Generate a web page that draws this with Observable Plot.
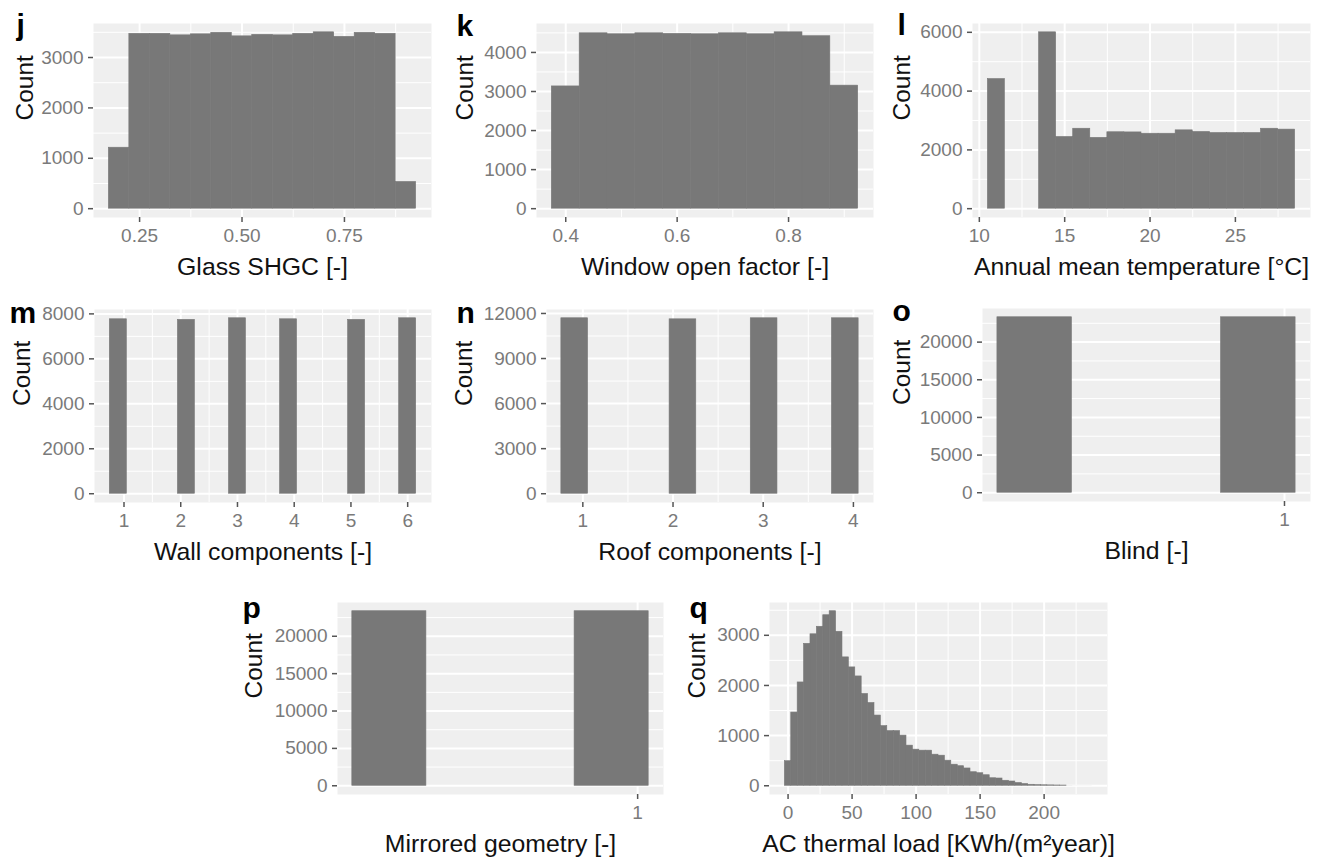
<!DOCTYPE html>
<html><head><meta charset="utf-8">
<script src="https://cdn.jsdelivr.net/npm/d3@7"></script>
<script src="https://cdn.jsdelivr.net/npm/@observablehq/plot@0.6"></script>
<style>
body{margin:0;background:#fff;}
#root{position:relative;width:1320px;height:858px;overflow:hidden;background:#fff;font-family:"Liberation Sans",Arial,sans-serif;}
#root svg{position:absolute;overflow:visible;}
</style></head><body><div id="root"></div>
<script>
// ---------- data ----------
// j: Glass SHGC
const shgcCenters = [0.20,0.25,0.30,0.35,0.40,0.45,0.50,0.55,0.60,0.65,0.70,0.75,0.80,0.85,0.90];
const shgcCounts  = [1210,3470,3470,3440,3460,3490,3420,3450,3440,3470,3500,3410,3490,3470,530];
const shgcTicks = [0.25,0.50,0.75];
// k: Window open factor
const windowCenters = [0.40,0.45,0.50,0.55,0.60,0.65,0.70,0.75,0.80,0.85,0.90];
const windowCounts  = [3130,4490,4465,4490,4475,4465,4490,4465,4515,4415,3150];
const windowTicks = [0.4,0.6,0.8];
// l: Annual mean temperature
const tempCenters = [11,14,15,16,17,18,19,20,21,22,23,24,25,26,27,28];
const tempCounts  = [4410,6000,2440,2720,2410,2600,2595,2550,2550,2665,2610,2575,2575,2575,2720,2690];
const tempTicks = [10,15,20,25];
// m: Wall components
const wallCenters = [0.90,2.10,3.00,3.90,5.10,6.00];
const wallCounts  = [7760,7735,7805,7760,7735,7805];
const wallTicks = [1,2,3,4,5,6];
// n: Roof components
const roofCenters = [0.91,2.11,3.01,3.91];
const roofCounts  = [11680,11610,11680,11680];
const roofTicks = [1,2,3,4];
// o: Blind
const blindCenters = [-0.117,0.883];
const blindCounts  = [23300,23300];
const blindTicks = [1];
// p: Mirrored geometry
const mirrorCenters = [-0.117,0.883];
const mirrorCounts  = [23350,23350];
const mirrorTicks = [1];
// q: AC thermal load
const loadCenters = [0,5,10,15,20,25,30,35,40,45,50,55,60,65,70,75,80,85,90,95,100,105,110,115,120,125,130,135,140,145,150,155,160,165,170,175,180,185,190,195,200,205,210,215,220,225,230,235];
const loadCounts  = [490,1460,2060,2830,3020,3170,3400,3480,3070,2560,2360,2180,1830,1650,1400,1190,1090,1090,1000,800,720,700,700,620,600,500,420,390,345,270,250,210,150,145,100,85,55,35,20,13,10,8,6,5,2,1,1,1];
const loadTicks = [0,50,100,150,200];

// ---------- panels ----------
const panels = [
  {letter:"j", title:"Glass SHGC [-]", centers:shgcCenters, counts:shgcCounts, bw:0.05, xTicks:shgcTicks, xMinor:[0.375,0.625,0.875], yTicks:[0,1000,2000,3000], yMinor:[500,1500,2500,3500], xFmt:".2f",
   box:[0,0,440,290], frame:[93,23,431,217], countX:25, letterXY:[16,34]},
  {letter:"k", title:"Window open factor [-]", centers:windowCenters, counts:windowCounts, bw:0.05, xTicks:windowTicks, xMinor:[0.5,0.7,0.9], yTicks:[0,1000,2000,3000,4000], yMinor:[500,1500,2500,3500,4500], xFmt:".1f",
   box:[440,0,440,290], frame:[536,23,873,217], countX:465, letterXY:[456,35]},
  {letter:"l", title:"Annual mean temperature [°C]", centers:tempCenters, counts:tempCounts, bw:1, xTicks:tempTicks, xMinor:[12.5,17.5,22.5,27.5], yTicks:[0,2000,4000,6000], yMinor:[1000,3000,5000], xFmt:"d",
   box:[880,0,440,290], frame:[972,23,1310,217], countX:902, letterXY:[897,34]},
  {letter:"m", title:"Wall components [-]", centers:wallCenters, counts:wallCounts, bw:0.3, xTicks:wallTicks, xMinor:[1.5,2.5,3.5,4.5,5.5], yTicks:[0,2000,4000,6000,8000], yMinor:[1000,3000,5000,7000], xFmt:"d",
   box:[0,290,440,280], frame:[94,309,431,502], countX:22, letterXY:[9,322]},
  {letter:"n", title:"Roof components [-]", centers:roofCenters, counts:roofCounts, bw:0.296, xTicks:roofTicks, xMinor:[1.5,2.5,3.5], yTicks:[0,3000,6000,9000,12000], yMinor:[1500,4500,7500,10500], xFmt:"d",
   box:[440,290,440,280], frame:[546,309,873,502], countX:464, letterXY:[456,322]},
  {letter:"o", title:"Blind [-]", centers:blindCenters, counts:blindCounts, bw:1/3, xTicks:blindTicks, xMinor:[], yTicks:[0,5000,10000,15000,20000], yMinor:[2500,7500,12500,17500,22500], xFmt:"d",
   box:[880,290,440,280], frame:[982,308,1310,501], countX:902, letterXY:[892,320]},
  {letter:"p", title:"Mirrored geometry [-]", centers:mirrorCenters, counts:mirrorCounts, bw:1/3, xTicks:mirrorTicks, xMinor:[], yTicks:[0,5000,10000,15000,20000], yMinor:[2500,7500,12500,17500,22500], xFmt:"d",
   box:[230,570,450,288], frame:[337,602,663,794], countX:254, letterXY:[242,617]},
  {letter:"q", title:"AC thermal load [KWh/(m²year)]", centers:loadCenters, counts:loadCounts, bw:5, xTicks:loadTicks, xMinor:[25,75,125,175,225], yTicks:[0,1000,2000,3000], yMinor:[500,1500,2500,3500], xFmt:"d",
   box:[680,570,450,288], frame:[769,602,1107,794], countX:697, letterXY:[689,617]}
];

const FONT = "'Liberation Sans', Arial, sans-serif";
const BAR = "#787878";
const root = document.getElementById("root");

for (const p of panels) {
  const [bx, by, bwid, bh] = p.box;
  const [fl, ft, fr, fb] = p.frame;
  const bins = p.centers.map((c, i) => ({x1: c - p.bw / 2, x2: c + p.bw / 2, count: p.counts[i]}));
  const xmin = d3.min(bins, d => d.x1), xmax = d3.max(bins, d => d.x2);
  const xr = xmax - xmin;
  const ymax = d3.max(bins, d => d.count);
  const fmt = d3.format(p.xFmt);
  const chart = Plot.plot({
    width: bwid, height: bh,
    marginLeft: fl - bx, marginTop: ft - by,
    marginRight: bx + bwid - fr, marginBottom: by + bh - fb,
    style: {fontFamily: FONT, background: "transparent", overflow: "visible"},
    x: {domain: [xmin - 0.05 * xr, xmax + 0.05 * xr]},
    y: {domain: [-0.05 * ymax, 1.05 * ymax]},
    marks: [
      Plot.frame({fill: "#EFEFEF", stroke: null}),
      Plot.gridY(p.yMinor, {stroke: "#fff", strokeOpacity: 1, strokeWidth: 1}),
      Plot.gridX(p.xMinor, {stroke: "#fff", strokeOpacity: 1, strokeWidth: 1}),
      Plot.gridY(p.yTicks, {stroke: "#fff", strokeOpacity: 1, strokeWidth: 2}),
      Plot.gridX(p.xTicks, {stroke: "#fff", strokeOpacity: 1, strokeWidth: 2}),
      Plot.rectY(bins, {x1: "x1", x2: "x2", y1: 0, y2: "count", fill: BAR,
        stroke: d => (d.count / ymax > 0.0012 ? BAR : "none"), strokeWidth: 0.6, inset: 0}),
      Plot.axisY(p.yTicks, {anchor: "left", tickSize: 5, tickPadding: 5, fontSize: 19, stroke: "#555", strokeWidth: 1.5, fill: "#7a7a7a", tickFormat: d => String(d), label: null}),
      Plot.axisX(p.xTicks, {anchor: "bottom", tickSize: 5, tickPadding: 6, fontSize: 19, stroke: "#555", strokeWidth: 1.5, fill: "#7a7a7a", tickFormat: fmt, label: null}),
      Plot.text([p.title], {frameAnchor: "bottom", dy: 50, fontSize: 24.8, fill: "#111", lineAnchor: "middle"}),
      Plot.text(["Count"], {frameAnchor: "left", dx: p.countX - fl, rotate: -90, fontSize: 24.5, fill: "#111", lineAnchor: "middle"}),
      Plot.text([p.letter], {frameAnchor: "top-left", dx: p.letterXY[0] - fl, dy: p.letterXY[1] - ft, fontSize: 30, fontWeight: "bold", fill: "#000", textAnchor: "start", lineAnchor: "bottom"})
    ]
  });
  chart.style.left = bx + "px";
  chart.style.top = by + "px";
  root.appendChild(chart);
}
</script></body></html>
